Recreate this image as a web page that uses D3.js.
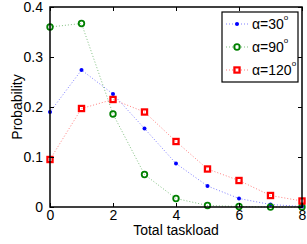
<!DOCTYPE html>
<html>
<head>
<meta charset="utf-8">
<script src="https://cdn.jsdelivr.net/npm/d3@7"></script>
<style>
  body { margin: 0; background: #fff; }
  text { font-family: "Liberation Sans", Arial, sans-serif; }
</style>
</head>
<body>
<div id="chart"></div>
<script>
// data
const taskload = [0, 1, 2, 3, 4, 5, 6, 7, 8]
const alpha30 = [0.19, 0.274, 0.226, 0.157, 0.087, 0.042, 0.017, 0.005, 0.001]
const alpha90 = [0.36, 0.367, 0.186, 0.065, 0.017, 0.003, 0.001, 0.0, 0.0]
const alpha120 = [0.095, 0.197, 0.215, 0.19, 0.131, 0.076, 0.053, 0.023, 0.012]
const seriesNames = ["α=30", "α=90", "α=120"]
const xTicks = [0, 2, 4, 6, 8]
const yTicks = [0, 0.1, 0.2, 0.3, 0.4]

const width = 307
const height = 244
const margin = {top: 7, right: 5, bottom: 37, left: 50}

const svg = d3.select("#chart")
  .append("svg")
  .attr("width", width)
  .attr("height", height)

const x = d3.scaleLinear().domain([0, 8]).range([margin.left, width - margin.right])
const y = d3.scaleLinear().domain([0, 0.4]).range([height - margin.bottom, margin.top])

const series = [
  {name: seriesNames[0], values: alpha30, color: "#0000ff", marker: "dot"},
  {name: seriesNames[1], values: alpha90, color: "#008000", marker: "circle"},
  {name: seriesNames[2], values: alpha120, color: "#ff0000", marker: "square"}
]

// lines
const line = d3.line().x((d, i) => x(taskload[i])).y(d => y(d))
series.forEach(s => {
  svg.append("path")
    .attr("d", line(s.values))
    .attr("fill", "none")
    .attr("stroke", s.color)
    .attr("stroke-opacity", 0.5)
    .attr("stroke-width", 1)
    .attr("stroke-dasharray", "1,2")
})

function drawMarker(g, type, color, cx, cy) {
  if (type === "dot") {
    g.append("circle").attr("cx", cx).attr("cy", cy).attr("r", 2).attr("fill", color)
  } else if (type === "circle") {
    g.append("circle").attr("cx", cx).attr("cy", cy).attr("r", 2.8)
      .attr("fill", "none").attr("stroke", color).attr("stroke-width", 1.8)
  } else {
    g.append("rect").attr("x", cx - 2.6).attr("y", cy - 2.6).attr("width", 5.2).attr("height", 5.2)
      .attr("fill", "none").attr("stroke", color).attr("stroke-width", 2.2)
  }
}

const marks = svg.append("g")
series.forEach(s => {
  s.values.forEach((v, i) => drawMarker(marks, s.marker, s.color, x(taskload[i]), y(v)))
})

// axes box with inward ticks
const x0 = margin.left, x1 = width - margin.right
const y0 = height - margin.bottom, y1 = margin.top
const axes = svg.append("g")
axes.append("g").attr("transform", `translate(0,${y0})`)
  .call(d3.axisBottom(x).tickValues(xTicks).tickSize(-4).tickPadding(3).tickFormat(d3.format("d")))
axes.append("g").attr("transform", `translate(0,${y1})`)
  .call(d3.axisTop(x).tickValues(xTicks).tickSize(-4).tickFormat(""))
axes.append("g").attr("transform", `translate(${x0},0)`)
  .call(d3.axisLeft(y).tickValues(yTicks).tickSize(-4).tickPadding(7).tickFormat(d => d === 0 ? "0" : d3.format(".1f")(d)))
axes.append("g").attr("transform", `translate(${x1},0)`)
  .call(d3.axisRight(y).tickValues(yTicks).tickSize(-4).tickFormat(""))
axes.selectAll(".domain").remove()
axes.selectAll("line").attr("stroke", "#000")
axes.selectAll("text").attr("font-size", 14).attr("fill", "#000")
  .style("font-family", "'Liberation Sans', Arial, sans-serif")
axes.append("rect")
  .attr("x", x0).attr("y", y1).attr("width", x1 - x0).attr("height", y0 - y1)
  .attr("fill", "none").attr("stroke", "#000").attr("stroke-width", 1.5)

// axis labels
svg.append("text")
  .attr("x", (x0 + x1) / 2).attr("y", 235)
  .attr("text-anchor", "middle").attr("font-size", 14)
  .text("Total taskload")
svg.append("text")
  .attr("transform", `translate(22,${(y0 + y1) / 2}) rotate(-90)`)
  .attr("text-anchor", "middle").attr("font-size", 14)
  .text("Probability")

// legend
const legend = svg.append("g")
legend.append("rect")
  .attr("x", 222).attr("y", 12).attr("width", 76).attr("height", 70)
  .attr("fill", "#fff").attr("stroke", "#000").attr("stroke-width", 1.2)
series.forEach((s, i) => {
  const ly = 24 + i * 23
  legend.append("line")
    .attr("x1", 226).attr("x2", 248).attr("y1", ly).attr("y2", ly)
    .attr("stroke", s.color).attr("stroke-opacity", 0.5).attr("stroke-dasharray", "1,2")
  drawMarker(legend, s.marker, s.color, 237, ly)
  const t = legend.append("text").attr("x", 252).attr("y", ly + 5).attr("font-size", 14)
  t.append("tspan").text(s.name)
  t.append("tspan").attr("font-size", 8).attr("dy", -9).text("o")
})
</script>
</body>
</html>
